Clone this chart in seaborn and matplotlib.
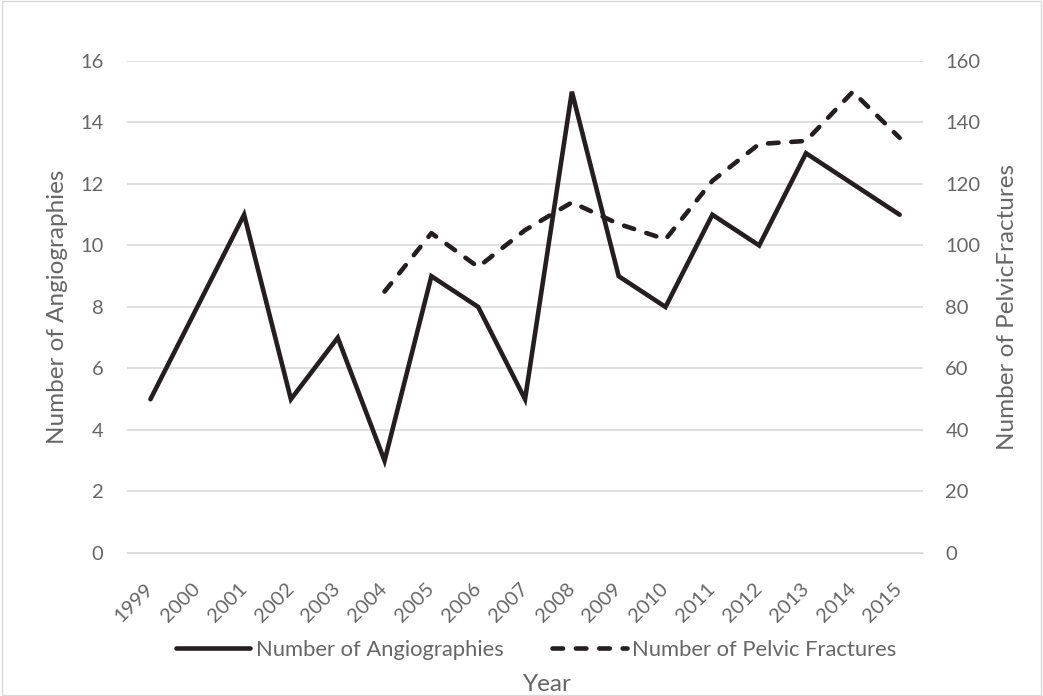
import numpy as np
import pandas as pd
import matplotlib
matplotlib.use("Agg")
import matplotlib.pyplot as plt
import seaborn as sns
from matplotlib.lines import Line2D

years = list(range(1999, 2016))
angiographies = [5, 8, 11, 5, 7, 3, 9, 8, 5, 15, 9, 8, 11, 10, 13, 12, 11]
fracture_years = list(range(2004, 2016))
pelvic_fractures = [85, 104, 93, 105, 114, 107, 102, 121, 133, 134, 150, 135]

sns.set_style("white")
plt.rcParams["font.family"] = ["Lato", "DejaVu Sans"]

GREY = "#666666"
LINE = "#231f20"
DASH = (0, (2.3, 2.8))
LW = 3.3

df_a = pd.DataFrame({"Year": years, "Angio": angiographies})
df_p = pd.DataFrame({"Year": fracture_years, "Pelvic": pelvic_fractures})

fig = plt.figure(figsize=(10.43, 6.96), dpi=100)
ax = fig.add_axes([0.1218, 0.2055, 0.7632, 0.7069])
ax2 = ax.twinx()

sns.lineplot(data=df_a, x="Year", y="Angio", ax=ax, color=LINE, lw=LW,
             legend=False, solid_joinstyle="miter")
sns.lineplot(data=df_p, x="Year", y="Pelvic", ax=ax2, color=LINE, lw=LW,
             linestyle=DASH, dash_capstyle="round", legend=False)

ax.set_xlim(1998.5, 2015.5)
ax.set_ylim(0, 16)
ax2.set_ylim(0, 160)
ax.set_yticks(range(0, 17, 2))
ax2.set_yticks(range(0, 161, 20))
ax.set_xticks(years)
ax.set_xticklabels([str(y) for y in years], rotation=45, ha="right",
                   va="center", rotation_mode="anchor")

ax.yaxis.grid(True, color="#d9d9d9", lw=1.2)
ax.set_axisbelow(True)
for a in (ax, ax2):
    for s in a.spines.values():
        s.set_visible(False)
    a.tick_params(length=0, colors=GREY, labelsize=14.5)
ax.spines["bottom"].set_visible(True)
ax.spines["bottom"].set_color("#d9d9d9")
ax.tick_params(axis="y", pad=17)
ax2.tick_params(axis="y", pad=16)
ax.tick_params(axis="x", pad=24)

ax.set_ylabel("Number of Angiographies", color=GREY, fontsize=17.5,
              labelpad=9)
ax2.set_ylabel("Number of PelvicFractures", color=GREY, fontsize=17.5,
               labelpad=12)
ax.set_xlabel("")
fig.text(0.525, 0.017, "Year", color=GREY, fontsize=17.5, ha="center",
         va="center")

handles = [Line2D([], [], color=LINE, lw=LW),
           Line2D([], [], color=LINE, lw=LW, linestyle=DASH,
                  dash_capstyle="round")]
fig.legend(handles, ["Number of Angiographies", "Number of Pelvic Fractures"],
           loc="center", bbox_to_anchor=(0.514, 0.066), ncol=2, frameon=False,
           fontsize=15.8, labelcolor=GREY, handlelength=3.4,
           handletextpad=0.25, columnspacing=2.2, borderpad=0)

fig.patches.append(plt.Rectangle((0.002, 0.002), 0.996, 0.996,
                                 transform=fig.transFigure, fill=False,
                                 edgecolor="#d9d9d9", lw=1))

fig.savefig("out.png", dpi=100)
